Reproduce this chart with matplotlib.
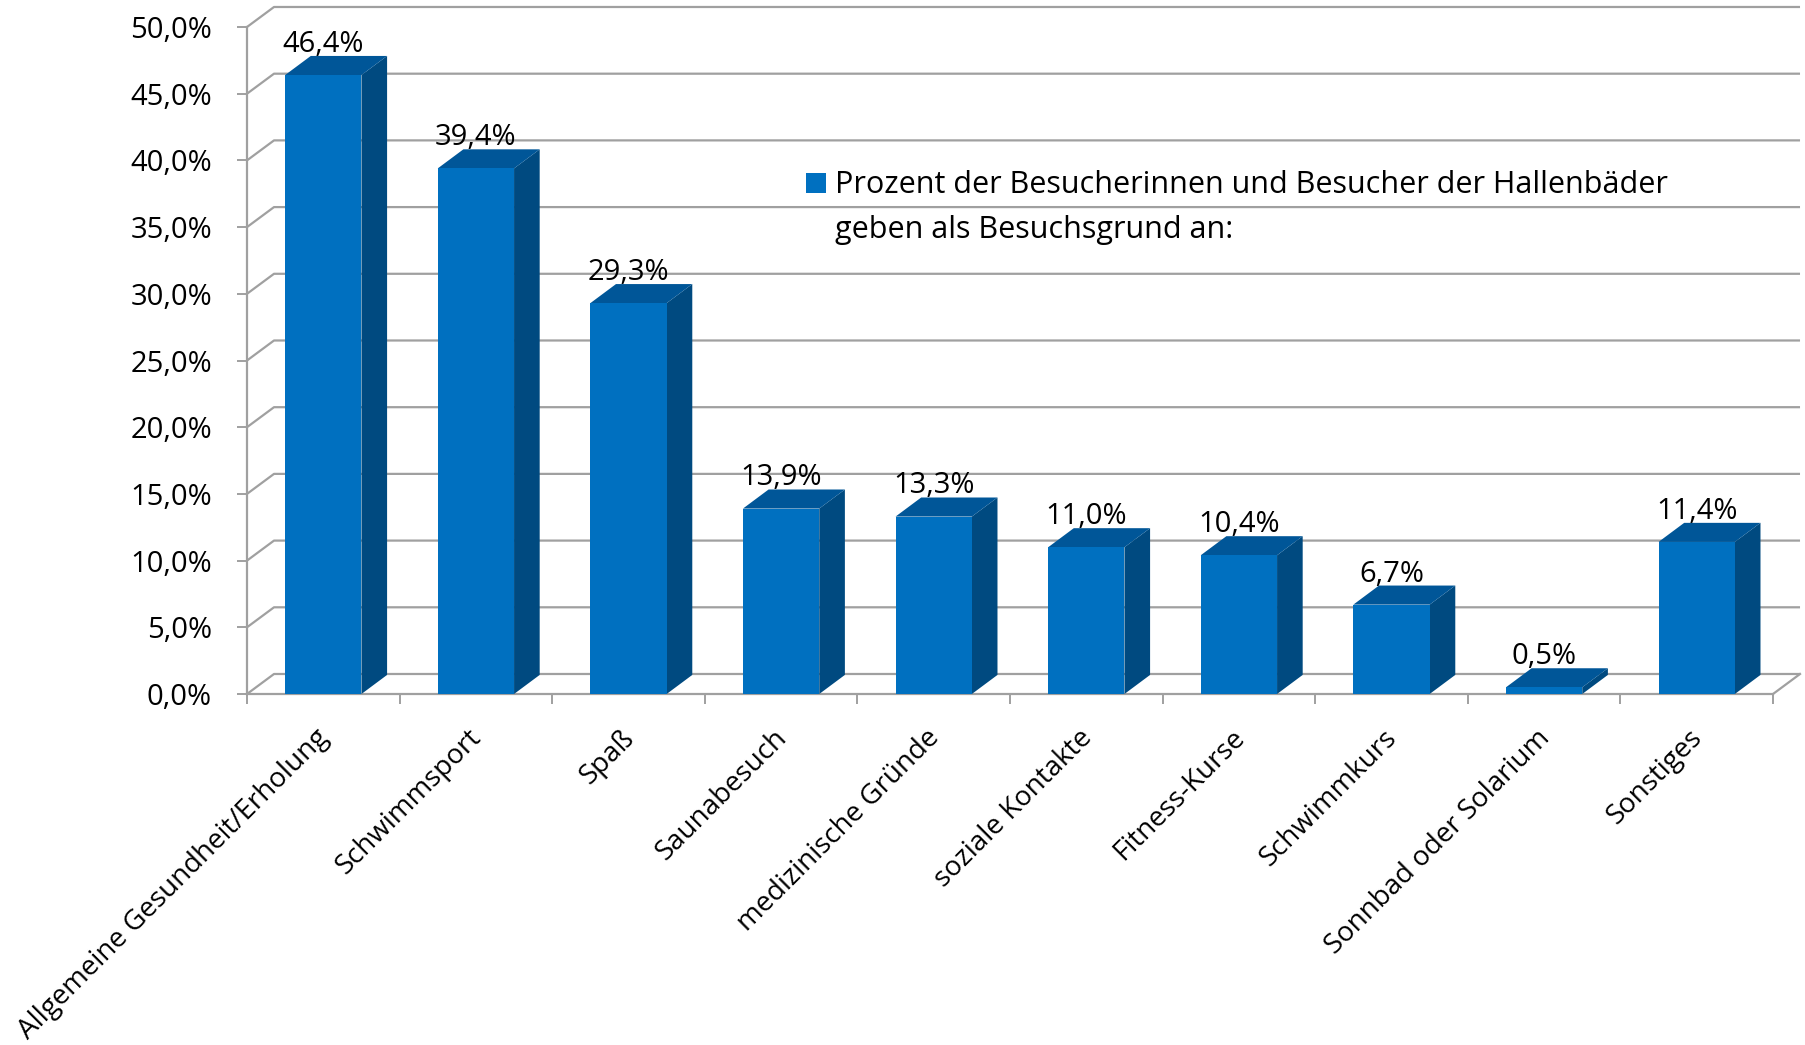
import matplotlib.pyplot as plt
from matplotlib.patches import Polygon, Rectangle

plt.rcParams['font.family'] = ['Open Sans', 'DejaVu Sans']

categories = ['Allgemeine Gesundheit/Erholung', 'Schwimmsport', 'Spaß', 'Saunabesuch',
              'medizinische Gründe', 'soziale Kontakte', 'Fitness-Kurse', 'Schwimmkurs',
              'Sonnbad oder Solarium', 'Sonstiges']
values = [46.4, 39.4, 29.3, 13.9, 13.3, 11.0, 10.4, 6.7, 0.5, 11.4]
y_ticks = [0, 5, 10, 15, 20, 25, 30, 35, 40, 45, 50]
legend_text = 'Prozent der Besucherinnen und Besucher der Hallenbäder\ngeben als Besuchsgrund an:'

front = '#0070C0'
side = '#004A80'
top = '#005698'
grid = '#A0A0A0'
fs = 21

W, H = 1805, 1045
fig = plt.figure(figsize=(W / 100, H / 100), dpi=100)
ax = fig.add_axes([247 / W, 1 - 694 / H, (1773 - 247) / W, (694 - 27) / H])
ax.set_xlim(0, 10)
ax.set_ylim(0, 50)

# depth of the 3d box (wall) and of the bars, in data units
ddx, ddy = 0.177, 1.5
bdx, bdy = 0.168, 1.43

for s in ['top', 'right']:
    ax.spines[s].set_visible(False)
for s in ['left', 'bottom']:
    ax.spines[s].set_color(grid)
    ax.spines[s].set_linewidth(1.6)

# gridlines on the side wall and back wall
for y in y_ticks:
    ax.plot([0, ddx, 10 + ddx], [y, y + ddy, y + ddy], color=grid, lw=1.6,
            clip_on=False, zorder=1, solid_capstyle='butt')
ax.plot([10, 10 + ddx], [0, ddy], color=grid, lw=1.6, clip_on=False, zorder=1)

# 3d bars
for i, v in enumerate(values):
    x0, x1 = i + 0.25, i + 0.75
    ax.add_patch(Polygon([(x1, 0), (x1 + bdx, bdy), (x1 + bdx, v + bdy), (x1, v)],
                         closed=True, facecolor=side, edgecolor='none', zorder=3, clip_on=False))
    ax.add_patch(Polygon([(x0, v), (x1, v), (x1 + bdx, v + bdy), (x0 + bdx, v + bdy)],
                         closed=True, facecolor=top, edgecolor='none', zorder=3, clip_on=False))
    ax.add_patch(Rectangle((x0, 0), 0.5, v, facecolor=front, edgecolor='none', zorder=4,
                           clip_on=False))
    ax.text(i + 0.5, v + bdy + 0.3, f'{v:.1f}'.replace('.', ',') + '%', ha='center',
            va='baseline', fontsize=fs, zorder=5)
    ax.text(i + 0.5 + 0.01, -3.0, categories[i], rotation=45, rotation_mode='anchor',
            ha='right', va='center', fontsize=20)

ax.set_yticks(y_ticks)
ax.set_yticklabels([f'{t:.1f}'.replace('.', ',') + '%' for t in y_ticks], fontsize=fs)
ax.set_xticks(range(11))
ax.set_xticklabels([])
ax.tick_params(axis='both', direction='out', length=7.2, width=1.4, color=grid)
ax.tick_params(axis='y', pad=18)

# legend
fig.patches.append(Rectangle((806 / W, 1 - 193 / H), 20 / W, 20 / H, facecolor=front,
                             edgecolor='none', transform=fig.transFigure, figure=fig))
fig.text(835 / W, 1 - 193 / H, legend_text.split('\n')[0], fontsize=22, va='baseline')
fig.text(835 / W, 1 - 238 / H, legend_text.split('\n')[1], fontsize=22, va='baseline')

fig.savefig('out.png', dpi=100)
